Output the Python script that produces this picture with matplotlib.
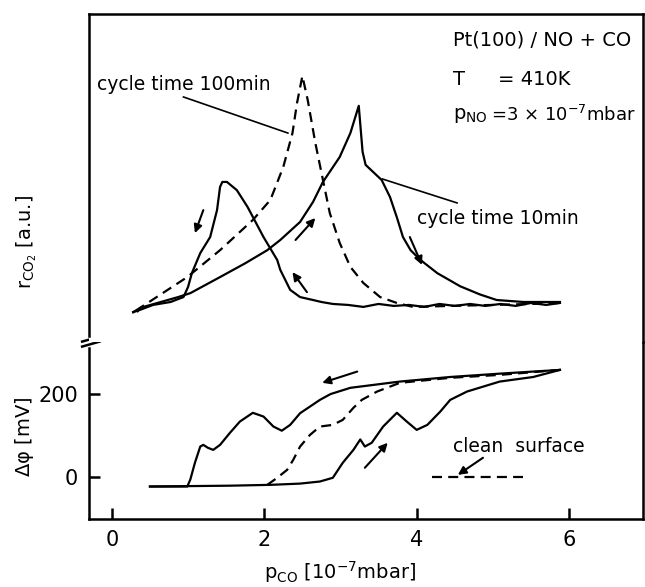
import matplotlib
matplotlib.use("Agg")
import matplotlib.pyplot as plt

plt.rcParams['font.family'] = ['DejaVu Sans']
plt.rcParams['mathtext.default'] = 'regular'

# ---------------- data ----------------
# upper panel: CO2 rate (a.u.), cycle time 10 min (solid loop)
r10_fwd_x = [0.28, 0.37, 0.87, 1.03, 1.42, 1.75, 2.04, 2.21, 2.47, 2.64, 2.77, 2.99, 3.13, 3.24,
             3.29, 3.33, 3.54, 3.65, 3.74, 3.82, 3.92, 4.05, 4.27, 4.57, 4.83, 5.05, 5.40, 5.88]
r10_fwd_y = [0.91, 1.04, 1.37, 1.49, 1.98, 2.40, 2.80, 3.11, 3.66, 4.27, 4.88, 5.64, 6.37, 7.20,
             5.80, 5.40, 4.94, 4.42, 3.80, 3.20, 2.80, 2.50, 2.10, 1.70, 1.45, 1.28, 1.22, 1.22]
r10_ret_x = [5.88, 5.70, 5.50, 5.30, 5.10, 4.90, 4.70, 4.50, 4.30, 4.10, 3.90, 3.70, 3.50, 3.30,
             3.10, 2.90, 2.75, 2.64, 2.47, 2.34, 2.21, 2.17, 1.99, 1.78, 1.64, 1.51, 1.45, 1.42,
             1.38, 1.29, 1.16, 1.05, 1.00, 0.94, 0.77, 0.54, 0.37, 0.28]
r10_ret_y = [1.19, 1.13, 1.19, 1.10, 1.16, 1.10, 1.16, 1.10, 1.16, 1.07, 1.13, 1.10, 1.16, 1.07,
             1.13, 1.16, 1.22, 1.28, 1.37, 1.59, 2.20, 2.50, 3.20, 4.12, 4.63, 4.88, 4.88, 4.73,
             4.02, 3.20, 2.71, 2.10, 1.68, 1.37, 1.22, 1.13, 0.98, 0.91]
# cycle time 100 min (dashed)
r100_x = [0.33, 0.37, 0.99, 1.42, 1.85, 2.08, 2.25, 2.37, 2.43, 2.50, 2.57, 2.67, 2.77, 2.86,
          2.99, 3.13, 3.30, 3.52, 3.74, 3.95, 4.44, 5.00, 5.50, 5.88]
r100_y = [0.91, 1.04, 1.98, 2.80, 3.72, 4.33, 5.34, 6.37, 7.29, 8.11, 7.38, 6.07, 4.94, 3.93,
          3.02, 2.29, 1.80, 1.37, 1.19, 1.07, 1.10, 1.13, 1.16, 1.19]

# lower panel: work function change (mV), cycle time 10 min (solid loop)
dphi_fwd_x = [0.50, 1.55, 2.08, 2.47, 2.73, 2.90, 3.03, 3.17, 3.26, 3.32, 3.41, 3.56, 3.74, 3.87,
              4.00, 4.14, 4.31, 4.44, 4.66, 5.09, 5.53, 5.88]
dphi_fwd_y = [-22, -20, -18, -15, -10, -1, 35, 66, 91, 74, 83, 122, 155, 134,
              114, 126, 158, 186, 206, 230, 241, 258]
dphi_ret_x = [5.88, 5.09, 4.44, 3.78, 3.13, 2.87, 2.73, 2.60, 2.47, 2.34, 2.23, 2.12, 1.99, 1.85,
              1.68, 1.55, 1.42, 1.33, 1.26, 1.20, 1.16, 1.09, 1.03, 0.99, 0.50]
dphi_ret_y = [258, 249, 241, 230, 215, 200, 186, 170, 154, 126, 112, 122, 146, 155,
              134, 107, 78, 66, 71, 78, 74, 35, -5, -22, -22]
# cycle time 100 min (dashed)
dphi100_x = [2.04, 2.17, 2.30, 2.38, 2.47, 2.60, 2.73, 2.90, 3.03, 3.17, 3.28, 3.48, 3.78, 4.44,
             5.09, 5.88]
dphi100_y = [-18, -1, 18, 42, 74, 102, 122, 126, 138, 167, 186, 206, 227, 239, 246, 258]
# clean surface reference
clean_x = [4.20, 5.40]
clean_y = [0, 0]

xticks = [0, 2, 4, 6]
yticks = [0, 200]

# ---------------- figure ----------------
fig = plt.figure(figsize=(6.45, 5.87), dpi=100)
L, W = 89 / 645, (643 - 89) / 645
ax_lo = fig.add_axes([L, 1 - 519 / 587, W, (519 - 342) / 587])
ax_up = fig.add_axes([L, 1 - 342 / 587, W, (342 - 14) / 587])

lw = 1.6
dash = (0, (4.5, 2.8))
k = 'black'

ax_up.plot(r10_fwd_x, r10_fwd_y, color=k, lw=lw)
ax_up.plot(r10_ret_x, r10_ret_y, color=k, lw=lw)
ax_up.plot(r100_x, r100_y, color=k, lw=lw, linestyle=dash)

ax_lo.plot(dphi_fwd_x, dphi_fwd_y, color=k, lw=lw)
ax_lo.plot(dphi_ret_x, dphi_ret_y, color=k, lw=lw)
ax_lo.plot(dphi100_x, dphi100_y, color=k, lw=lw, linestyle=dash)
ax_lo.plot(clean_x, clean_y, color=k, lw=lw, linestyle=dash)

xlim = (-0.30, 6.97)
for ax in (ax_up, ax_lo):
    ax.set_xlim(*xlim)
    for s in ax.spines.values():
        s.set_linewidth(1.8)
ax_up.set_ylim(0, 10)
ax_lo.set_ylim(-100, 325)

ax_up.spines['bottom'].set_visible(False)
ax_lo.spines['top'].set_visible(False)
ax_up.set_xticks([])
ax_up.set_yticks([])
ax_up.spines['left'].set_bounds(0.18, 10)
ax_lo.spines['left'].set_bounds(-100, 310)

ax_lo.set_xticks(xticks)
ax_lo.set_yticks(yticks)
ax_lo.tick_params(direction='in', length=8, width=1.8, labelsize=15, pad=8)

# axis break marks
brk = dict(color=k, lw=1.8, clip_on=False)
ax_lo.plot([-0.39, -0.16], [314, 326], **brk, transform=ax_lo.transData)
ax_lo.plot([-0.39, -0.16], [326, 338], **brk, transform=ax_lo.transData)

# direction arrows
arr = dict(arrowstyle='-|>', color=k, lw=1.5, mutation_scale=12, shrinkA=0, shrinkB=0)
ax_up.annotate('', xy=(1.09, 3.32), xytext=(1.20, 4.02), arrowprops=arr)
ax_up.annotate('', xy=(2.67, 3.78), xytext=(2.41, 3.11), arrowprops=arr)
ax_up.annotate('', xy=(2.37, 2.13), xytext=(2.56, 1.52), arrowprops=arr)
ax_up.annotate('', xy=(4.07, 2.35), xytext=(3.91, 3.20), arrowprops=arr)
ax_lo.annotate('', xy=(2.76, 227), xytext=(3.22, 254), arrowprops=arr)
ax_lo.annotate('', xy=(3.62, 83), xytext=(3.32, 23), arrowprops=arr)
ax_lo.annotate('', xy=(4.54, 6), xytext=(4.87, 47), arrowprops=arr)

# labels on curves
fs = 13.5
ax_up.text(-0.19, 7.84, 'cycle time 100min', fontsize=fs, va='center', ha='left')
ax_up.plot([0.94, 2.31], [7.47, 6.37], color=k, lw=1.2)
ax_up.text(4.00, 3.78, 'cycle time 10min', fontsize=fs, va='center', ha='left')
ax_up.plot([3.55, 4.53], [4.97, 4.24], color=k, lw=1.2)
ax_lo.text(4.48, 74, 'clean  surface', fontsize=fs, va='center', ha='left')

fs2 = 14
ax_up.text(4.48, 9.21, 'Pt(100) / NO + CO', fontsize=fs2, va='center', ha='left')
ax_up.text(4.48, 7.99, 'T', fontsize=fs2, va='center', ha='left')
ax_up.text(5.07, 7.99, '= 410K', fontsize=fs2, va='center', ha='left')
ax_up.text(4.48, 6.92, r'$p_{NO}$', fontsize=fs2, va='center', ha='left')
ax_up.text(4.98, 6.92, r'=3 × 10$^{-7}$mbar', fontsize=13, va='center', ha='left')

# axis labels
fig.text(27 / 645, 1 - 242 / 587, r'$r_{CO_2}$ [a.u.]', rotation=90, fontsize=14,
         ha='center', va='center')
fig.text(24 / 645, 1 - 437 / 587, r'$\Delta\varphi$ [mV]', rotation=90, fontsize=14,
         ha='center', va='center')
fig.text(340 / 645, 1 - 572 / 587, r'$p_{CO}$ [10$^{-7}$mbar]', fontsize=14,
         ha='center', va='center')

fig.savefig('out.png', dpi=100, facecolor='white')
